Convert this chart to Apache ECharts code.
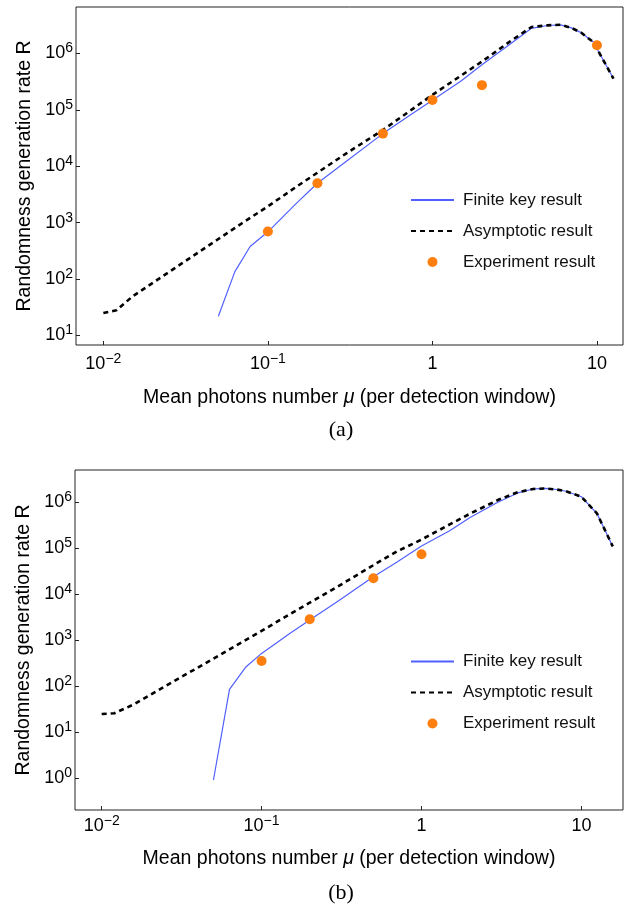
<!DOCTYPE html>
<html><head><meta charset="utf-8">
<script src="https://cdn.jsdelivr.net/npm/echarts@6/dist/echarts.min.js"></script>
<style>html,body{margin:0;padding:0;background:#fff}#c{width:628px;height:907px}</style>
</head><body><div id="c"></div>
<script>
// ---------- data: panel (a) ----------
const aAsymMu = [0.01, 0.012, 0.015, 0.02, 0.03, 0.05, 0.07, 0.1, 0.15, 0.2, 0.3, 0.5, 0.7, 1, 1.5, 2, 3, 4, 5, 6, 7, 8, 9.5, 12.6];
const aAsymR  = [25, 28, 49, 86, 190, 515, 990, 1950, 4400, 7700, 17000, 44000, 88000, 185000, 410000, 720000, 1.68e6, 2.95e6, 3.16e6, 3.24e6, 2.85e6, 2.35e6, 1.6e6, 3.6e5];
const aFinMu  = [0.05, 0.063, 0.078, 0.1, 0.15, 0.2, 0.3, 0.5, 0.7, 1, 1.5, 2, 3, 4, 5, 6, 7, 8, 9.5, 12.6];
const aFinR   = [22, 136, 378, 690, 2250, 5000, 12300, 38000, 74000, 149000, 330000, 630000, 1.5e6, 2.8e6, 3.14e6, 3.22e6, 2.85e6, 2.35e6, 1.6e6, 3.6e5];
const aExpMu  = [0.1, 0.2, 0.5, 1, 2, 10];
const aExpR   = [700, 5000, 38000, 150000, 275000, 1.4e6];
// ---------- data: panel (b) ----------
const bAsymMu = [0.01, 0.012, 0.016, 0.02, 0.03, 0.05, 0.07, 0.1, 0.15, 0.2, 0.3, 0.5, 0.7, 1, 1.5, 2, 3, 4, 5, 6, 7, 8, 10, 12.5, 15.7];
const bAsymR  = [25, 26, 41, 64, 145, 400, 790, 1600, 3700, 6600, 14800, 43000, 85000, 155000, 330000, 560000, 1.12e6, 1.66e6, 1.95e6, 2.0e6, 1.9e6, 1.74e6, 1.32e6, 5.75e5, 1.1e5];
const bFinMu  = [0.05, 0.063, 0.08, 0.1, 0.15, 0.2, 0.3, 0.5, 0.7, 1, 1.5, 2, 3, 4, 5, 6, 7, 8, 10, 12.5, 15.7];
const bFinR   = [0.92, 86, 267, 520, 1400, 2750, 7100, 24000, 50000, 112000, 240000, 460000, 1.0e6, 1.6e6, 1.95e6, 2.0e6, 1.9e6, 1.74e6, 1.32e6, 5.75e5, 1.1e5];
const bExpMu  = [0.1, 0.2, 0.5, 1];
const bExpR   = [355, 2860, 22300, 74000];
// ---------- text ----------
const seriesNames = ['Finite key result', 'Asymptotic result', 'Experiment result'];
const xTickExp = [-2, -1, 0, 1];
const xTickLabels = [['10', '\u22122'], ['10', '\u22121'], ['1', ''], ['10', '']];
const yTickExp = [0, 1, 2, 3, 4, 5, 6];
const yTickLabels = [['10','0'], ['10','1'], ['10','2'], ['10','3'], ['10','4'], ['10','5'], ['10','6']];
const xName = ['Mean photons number ', '\u03bc', ' (per detection window)'];
const yName = 'Randomness generation rate R';
const captions = ['(a)', '(b)'];

const FONT = '"Liberation Sans", Arial, sans-serif';
const zip = (xs, ys) => xs.map((x, i) => [x, ys[i]]);
function fmt(v, exps, labels) {
  const e = Math.log10(v), k = Math.round(e);
  if (Math.abs(e - k) > 1e-6) return '';
  const i = exps.indexOf(k);
  if (i < 0) return '';
  const [b, s] = labels[i];
  return s ? '{b|' + b + '}{s|' + s + '}' : '{b|' + b + '}';
}
const rich = {
  b: {fontSize: 18, fontFamily: FONT, color: '#000', lineHeight: 24},
  s: {fontSize: 14, fontFamily: FONT, color: '#000', lineHeight: 14, verticalAlign: 'top'}
};
function xAxis(gi, min, max, gap, margin) {
  return {
    type: 'log', logBase: 10, gridIndex: gi, min: min, max: max,
    axisLine: {show: false}, splitLine: {show: false}, minorTick: {show: false},
    axisTick: {show: true, inside: true, length: 4, lineStyle: {color: '#222', width: 1}},
    axisLabel: {margin: margin, showMinLabel: false, showMaxLabel: false,
      formatter: v => fmt(v, xTickExp, xTickLabels), rich: rich},
    name: '{t|' + xName[0] + '}{i|' + xName[1] + '}{t|' + xName[2] + '}',
    nameLocation: 'middle', nameGap: gap,
    nameTextStyle: {rich: {
      t: {fontSize: 19.5, fontFamily: FONT, color: '#000'},
      i: {fontSize: 19.5, fontFamily: FONT, color: '#000', fontStyle: 'italic'}}}
  };
}
function yAxis(gi, min, max) {
  return {
    type: 'log', logBase: 10, gridIndex: gi, min: min, max: max,
    axisLine: {show: false}, splitLine: {show: false}, minorTick: {show: false},
    axisTick: {show: true, inside: true, length: 4, lineStyle: {color: '#222', width: 1}},
    axisLabel: {margin: 3, showMinLabel: false, showMaxLabel: false,
      formatter: v => fmt(v, yTickExp, yTickLabels), rich: rich},
    name: yName, nameLocation: 'middle', nameGap: 39,
    nameTextStyle: {fontSize: 19.5, fontFamily: FONT, color: '#000'}
  };
}
function seriesFor(gi, fin, asym, exp) {
  return [
    {name: seriesNames[0], type: 'line', xAxisIndex: gi, yAxisIndex: gi, data: fin,
      symbol: 'none', showSymbol: false, lineStyle: {color: '#5060ff', width: 1.2}, itemStyle: {color: '#5060ff'}, z: 3},
    {name: seriesNames[1], type: 'line', xAxisIndex: gi, yAxisIndex: gi, data: asym,
      symbol: 'none', showSymbol: false, lineStyle: {color: '#000', width: 2.6, type: [5, 4]}, itemStyle: {color: '#000'}, z: 4},
    {name: seriesNames[2], type: 'scatter', xAxisIndex: gi, yAxisIndex: gi, data: exp,
      symbol: 'circle', symbolSize: 10, itemStyle: {color: '#ff7f0e', opacity: 1}, z: 5}
  ];
}
function legend(top) {
  return {
    orient: 'vertical', left: 405, top: top, itemWidth: 43, itemHeight: 10, itemGap: 14,
    data: [
      {name: seriesNames[0], itemStyle: {opacity: 0}},
      {name: seriesNames[1], itemStyle: {opacity: 0}},
      {name: seriesNames[2]}
    ],
    selectedMode: false,
    textStyle: {fontSize: 17, fontFamily: FONT, color: '#111', lineHeight: 17, padding: [0, 0, 0, 4]}
  };
}
const chart = echarts.init(document.getElementById('c'));
chart.setOption({
  animation: false,
  backgroundColor: '#fff',
  grid: [
    {left: 76, top: 7, width: 547, height: 338, show: true, borderColor: '#222', borderWidth: 1, containLabel: false},
    {left: 75, top: 470, width: 548, height: 340, show: true, borderColor: '#222', borderWidth: 1, containLabel: false}
  ],
  xAxis: [xAxis(0, 0.00682, 14.4, 43, 7), xAxis(1, 0.00681, 18.2, 39, 4)],
  yAxis: [yAxis(0, 6.79, 6.68e6), yAxis(1, 0.205, 5.04e6)],
  legend: [legend(186.5), legend(648)],
  series: [].concat(
    seriesFor(0, zip(aFinMu, aFinR), zip(aAsymMu, aAsymR), zip(aExpMu, aExpR)),
    seriesFor(1, zip(bFinMu, bFinR), zip(bAsymMu, bAsymR), zip(bExpMu, bExpR))
  ),
  graphic: [
    {type: 'text', x: 341, y: 430, style: {text: captions[0], font: '22px "Liberation Serif", serif', fill: '#000', align: 'center', verticalAlign: 'middle'}},
    {type: 'text', x: 341, y: 893, style: {text: captions[1], font: '22px "Liberation Serif", serif', fill: '#000', align: 'center', verticalAlign: 'middle'}}
  ]
});
</script></body></html>
